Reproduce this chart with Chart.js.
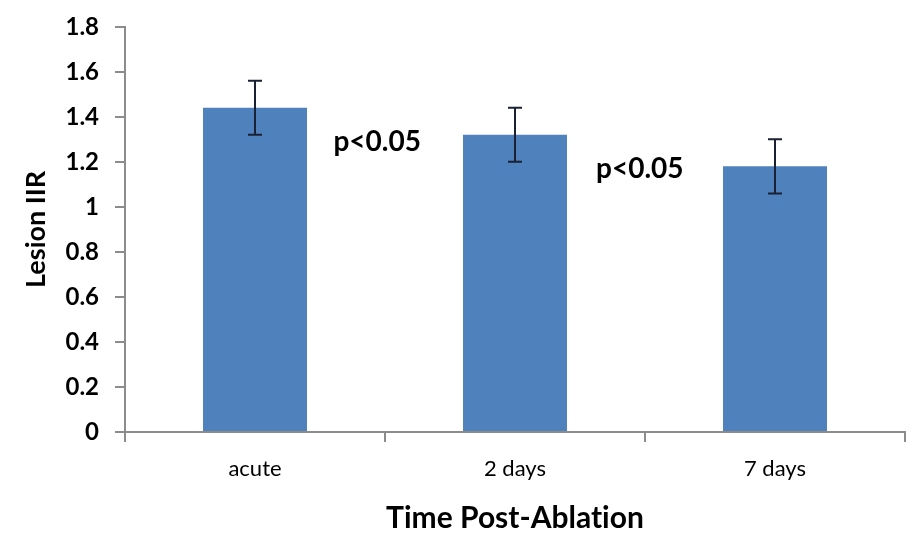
<!DOCTYPE html>
<html>
<head>
<meta charset="utf-8">
<script src="https://cdn.jsdelivr.net/npm/chart.js@4.4.1/dist/chart.umd.min.js"></script>
<style>
  html, body { margin: 0; padding: 0; background: #fff; }
  #wrap { width: 914px; height: 544px; }
</style>
</head>
<body>
<div id="wrap"><canvas id="chart" width="914" height="544"></canvas></div>
<script>
const categories = ['acute', '2 days', '7 days'];
const lesionIIR = [1.44, 1.32, 1.18];
const errors = [0.12, 0.12, 0.12];
const yTicks = [0, 0.2, 0.4, 0.6, 0.8, 1, 1.2, 1.4, 1.6, 1.8];

// p-value notes, positioned in data units (category index, y value)
const noteText = ['p<0.05', 'p<0.05'];
const noteX = [0.47, 1.48];
const noteY = [1.29, 1.17];

const FONT = 'Lato, "Open Sans", sans-serif';

const errorBars = {
  id: 'errorBars',
  afterDatasetsDraw(chart) {
    const { ctx, scales: { y } } = chart;
    const meta = chart.getDatasetMeta(0);
    ctx.save();
    ctx.strokeStyle = '#1b2033';
    ctx.lineWidth = 2;
    meta.data.forEach((bar, i) => {
      const top = y.getPixelForValue(lesionIIR[i] + errors[i]);
      const bot = y.getPixelForValue(lesionIIR[i] - errors[i]);
      const cap = 7;
      ctx.beginPath();
      ctx.moveTo(bar.x, top); ctx.lineTo(bar.x, bot);
      ctx.moveTo(bar.x - cap, top); ctx.lineTo(bar.x + cap, top);
      ctx.moveTo(bar.x - cap, bot); ctx.lineTo(bar.x + cap, bot);
      ctx.stroke();
    });
    ctx.restore();
  }
};

const notes = {
  id: 'notes',
  afterDraw(chart) {
    const { ctx, scales: { x, y } } = chart;
    ctx.save();
    ctx.fillStyle = '#000';
    ctx.font = 'bold 28px ' + FONT;
    ctx.textAlign = 'center';
    ctx.textBaseline = 'middle';
    noteText.forEach((t, i) => {
      ctx.fillText(t, x.getPixelForValue(noteX[i]), y.getPixelForValue(noteY[i]));
    });
    ctx.restore();
  }
};

new Chart(document.getElementById('chart'), {
  type: 'bar',
  data: {
    labels: categories,
    datasets: [{
      data: lesionIIR,
      backgroundColor: '#4f81bd',
      categoryPercentage: 0.8,
      barPercentage: 0.5
    }]
  },
  options: {
    responsive: false,
    animation: false,
    layout: { padding: { top: 25, right: 9, left: 0, bottom: 0 } },
    plugins: { legend: { display: false }, tooltip: { enabled: false } },
    scales: {
      x: {
        afterFit(s) { s.height = 112; },
        border: { color: '#8c8c8c', width: 2 },
        grid: { display: true, drawOnChartArea: false, drawTicks: true, tickLength: 10, color: '#8c8c8c', lineWidth: 2 },
        ticks: { color: '#000', padding: 14, font: { family: FONT, size: 22 } },
        // zero-width non-joiner keeps Lato from forming the "ti" ligature
        title: { display: true, text: 'Time Post-Ablat\u200Cion', color: '#000', padding: { top: 0, bottom: 8 }, font: { family: FONT, size: 30, weight: 'bold' } }
      },
      y: {
        min: 0,
        max: 1.8,
        afterFit(s) { s.width = 125; },
        afterBuildTicks(s) { s.ticks = yTicks.map(v => ({ value: v })); },
        border: { color: '#8c8c8c', width: 2 },
        grid: { display: true, drawOnChartArea: false, drawTicks: true, tickLength: 10, color: '#8c8c8c', lineWidth: 2 },
        ticks: { color: '#000', padding: 16, font: { family: FONT, size: 24, weight: 'bold', lineHeight: 0.9 }, callback: v => String(v) },
        title: { display: true, text: 'Lesion IIR', color: '#000', padding: { top: 20, bottom: 0 }, font: { family: FONT, size: 27, weight: 'bold' } }
      }
    }
  },
  plugins: [errorBars, notes]
});
</script>
</body>
</html>
